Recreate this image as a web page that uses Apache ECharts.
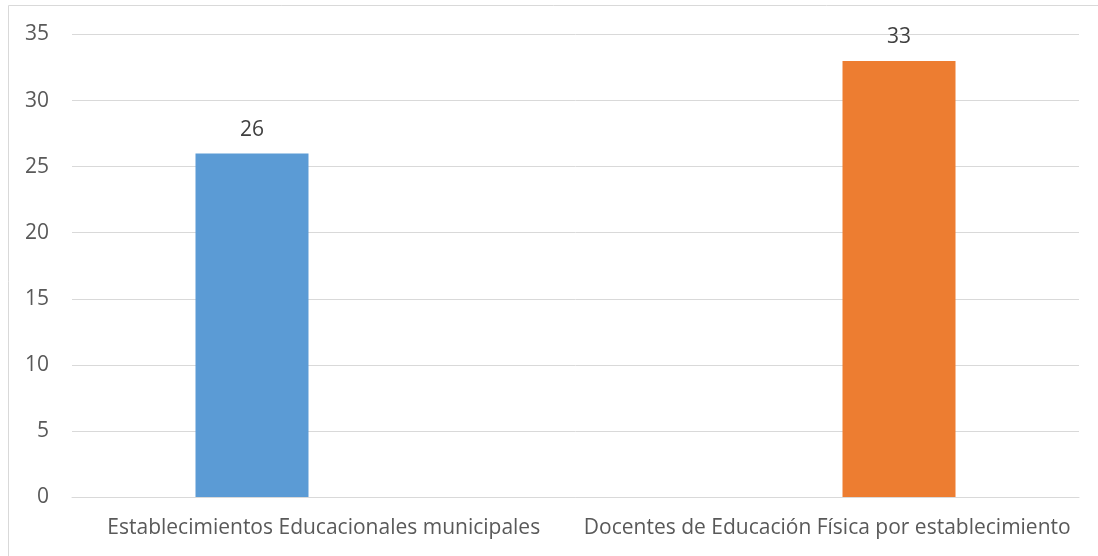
<!DOCTYPE html>
<html>
<head>
<meta charset="utf-8">
<script src="https://cdn.jsdelivr.net/npm/echarts@6/dist/echarts.min.js"></script>
<style>
  html, body { margin: 0; padding: 0; background: #fff; }
  #chart { width: 1098px; height: 556px; }
</style>
</head>
<body>
<div id="chart"></div>
<script>
const categories = ['Establecimientos Educacionales municipales', 'Docentes de Educación Física por establecimiento'];
// each measure is its own series, so each bar sits in its own slot of the cluster
const establecimientos = [26, '-'];
const docentes = ['-', 33];
const yTicks = { min: 0, max: 35, interval: 5 };

const chart = echarts.init(document.getElementById('chart'));
const fontFamily = '"Open Sans", "Liberation Sans", sans-serif';

const valueLabel = {
  show: true,
  position: 'top',
  distance: 13,
  color: '#404040',
  fontSize: 21,
  fontFamily: fontFamily
};

chart.setOption({
  animation: false,
  graphic: [{
    type: 'rect',
    shape: { x: 8.5, y: 5.5, width: 1300, height: 800 },
    style: { fill: 'none', stroke: '#d9d9d9', lineWidth: 1 },
    silent: true
  }],
  grid: { left: 72, right: 19, top: 34.5, bottom: 59, containLabel: false },
  xAxis: {
    type: 'category',
    data: categories,
    axisLine: { show: true, lineStyle: { color: '#d9d9d9', width: 1 } },
    axisTick: { show: false },
    axisLabel: { interval: 0, color: '#595959', fontSize: 21, fontFamily: fontFamily, margin: 21 }
  },
  yAxis: {
    type: 'value',
    min: yTicks.min,
    max: yTicks.max,
    interval: yTicks.interval,
    axisLine: { show: false },
    axisTick: { show: false },
    splitLine: { lineStyle: { color: '#d9d9d9', width: 1 } },
    axisLabel: { color: '#595959', fontSize: 21, fontFamily: fontFamily, margin: 23 }
  },
  series: [{
    name: 'Establecimientos',
    type: 'bar',
    barWidth: 113,
    barGap: '27%',
    data: establecimientos,
    itemStyle: { color: '#5b9bd5' },
    label: valueLabel
  }, {
    name: 'Docentes',
    type: 'bar',
    barWidth: 113,
    barGap: '27%',
    data: docentes,
    itemStyle: { color: '#ed7d31' },
    label: valueLabel
  }]
});
</script>
</body>
</html>
